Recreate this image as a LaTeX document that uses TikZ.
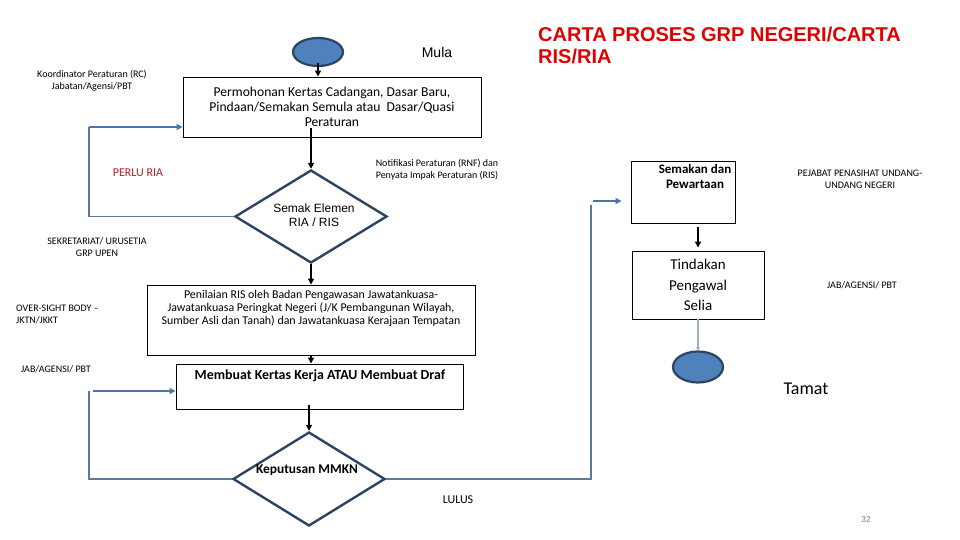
\documentclass[tikz,border=0pt]{standalone}
\usepackage{fontspec}
\setmainfont{Carlito}
\newfontfamily\arialf{Liberation Sans}
\usetikzlibrary{shapes.geometric,arrows.meta}
\definecolor{ofblue}{HTML}{4F81BD}
\definecolor{ofdark}{HTML}{2C4563}
\definecolor{loopc}{HTML}{5B7A99}
\definecolor{arrowblue}{HTML}{4A76A8}
\definecolor{perlured}{HTML}{B22222}
\definecolor{titlered}{HTML}{E00000}
\definecolor{endline}{HTML}{9DB0BD}
\newcommand{\fs}[1]{\fontsize{#1pt}{\the\dimexpr #1pt*6/5\relax}\selectfont}
\tikzset{
  x=1pt,y=-1pt,
  stepbox/.style={draw=black,line width=0.9pt,fill=white,inner sep=0pt},
  term/.style={ellipse,draw=ofdark,fill=ofblue,line width=2.2pt,inner sep=0pt},
  decide/.style={diamond,draw=ofdark,fill=white,line width=2.4pt,inner sep=0pt},
  arr/.style={line width=1.6pt,-{Triangle[width=6pt,length=6pt]}},
  loopline/.style={draw=loopc,line width=1.2pt},
  looparrow/.style={draw=arrowblue,line width=2pt,-{Triangle[width=6pt,length=6pt]}},
  small/.style={font=\fs{10},align=center,inner sep=0pt},
}
\begin{document}
\begin{tikzpicture}
\useasboundingbox (0,0) rectangle (960,540);
\fill[white] (0,0) rectangle (960,540);

% title
\node[anchor=north west,align=left,inner sep=0pt,text=titlered,font=\arialf\bfseries\fs{20}] (title) at (538,27) {CARTA PROSES GRP NEGERI/CARTA\\[-2pt]RIS/RIA};

% start
\node[term,minimum width=50,minimum height=28] (s) at (318,52) {};
\node[font=\arialf\fs{14},inner sep=0pt] (mula) at (437,52) {Mula};

% boxes
\node[stepbox,minimum width=298,minimum height=60] (b1) at (332,107)
  {\parbox{296pt}{\centering\fs{13.6}Permohonan Kertas Cadangan, Dasar Baru,\\[-1.5pt] Pindaan/Semakan Semula atau\ \ Dasar/Quasi\\[-1.5pt] Peraturan}};
\node[decide,minimum width=152,minimum height=93] (d1) at (311,216.5) {};
\node[font=\arialf\fs{12},align=center,inner sep=0pt] (d1t) at (314,215) {Semak Elemen\\ RIA / RIS};
\node[stepbox,minimum width=328,minimum height=70] (b2) at (311,320) {};
\node[anchor=north,font=\fs{11.9},align=center,inner sep=0pt] (b2t) at (311,290) {Penilaian RIS oleh Badan Pengawasan Jawatankuasa-\\[-1.5pt] Jawatankuasa Peringkat Negeri (J/K Pembangunan Wilayah,\\[-1.5pt] Sumber Asli dan Tanah) dan Jawatankuasa Kerajaan Tempatan};
\node[stepbox,minimum width=287,minimum height=45] (b3) at (319.5,386.5) {};
\node[font=\bfseries\fs{13.9},inner sep=0pt] (b3t) at (320,376) {Membuat Kertas Kerja ATAU Membuat Draf};
\node[decide,minimum width=152,minimum height=94] (d2) at (309,479) {};
\node[font=\bfseries\fs{13.4},inner sep=0pt] (d2t) at (307,470) {Keputusan MMKN};

\node[stepbox,minimum width=104,minimum height=62] (b4) at (683,192) {};
\node[anchor=north,font=\bfseries\fs{13},align=center,inner sep=0pt] (b4t) at (695,164) {Semakan dan\\ Pewartaan};
\node[stepbox,minimum width=132,minimum height=68] (b5) at (698,285)
  {\parbox{120pt}{\centering\fs{15}Tindakan\\[2.5pt] Pengawal\\[2.5pt] Selia}};
\node[term,minimum width=50,minimum height=31] (e) at (698,367) {};
\node[font=\fs{18},inner sep=0pt] (tamat) at (806,389) {Tamat};

% side labels
\node[small] (l1) at (92,81) {Koordinator Peraturan (RC)\\ Jabatan/Agensi/PBT};
\node[font=\fs{12},text=perlured,inner sep=0pt] (perlu) at (138,173) {PERLU RIA};
\node[small] (notif) at (437,170) {Notifikasi Peraturan (RNF) dan\\ Penyata Impak Peraturan (RIS)};
\node[small] (sekr) at (97,247) {SEKRETARIAT/ URUSETIA\\ GRP UPEN};
\node[small,align=left,anchor=west] (osb) at (16,314) {OVER-SIGHT BODY --\\ JKTN/JKKT};
\node[small,anchor=west] (jab1) at (21,369) {JAB/AGENSI/ PBT};
\node[font=\fs{12},inner sep=0pt] (lulus) at (458,500) {LULUS};
\node[small] (pej) at (860,179) {PEJABAT PENASIHAT UNDANG-\\ UNDANG NEGERI};
\node[small] (jab2) at (862,285) {JAB/AGENSI/ PBT};
\node[font=\arialf\fs{8.5},text=gray,inner sep=0pt] (pg) at (866,520) {32};

% coordinates for loop connectors
\coordinate (lc1) at (89,127);
\coordinate (lc2) at (89,391);
\coordinate (rc) at (591,201);

% main flow
\draw[arr] ([yshift=4]s.south) -- (s.south |- b1.north);
\draw[arr] ([yshift=9]b1.south -| d1.north) -- (d1.north);
\draw[arr] (d1.south) -- (d1.south |- b2.north);
\draw[arr] (b2.south -| d1.north) -- (b3.north -| d1.north);
\draw[arr] ([yshift=4]b3.south -| d2.north) -- (d2.north);
\draw[arr,shorten <=4pt,shorten >=3pt] (b4.south -| b5.north) -- (b5.north);
\draw[draw=endline,line width=1.8pt,-{Triangle[width=4pt,length=3pt]}] (b5.south) -- (e.north);

% loops
\draw[loopline] (d1.west) -| (lc1);
\draw[looparrow] (lc1) -- (b1.west |- lc1);
\draw[loopline] (d2.west) -| (lc2);
\draw[looparrow] ([xshift=4]lc2) -- (b3.west |- lc2);
\draw[loopline] (d2.east) -| ([yshift=-4]rc);
\draw[looparrow] ([xshift=2]rc) -- ([xshift=-9]b4.west |- rc);
\end{tikzpicture}
\end{document}
